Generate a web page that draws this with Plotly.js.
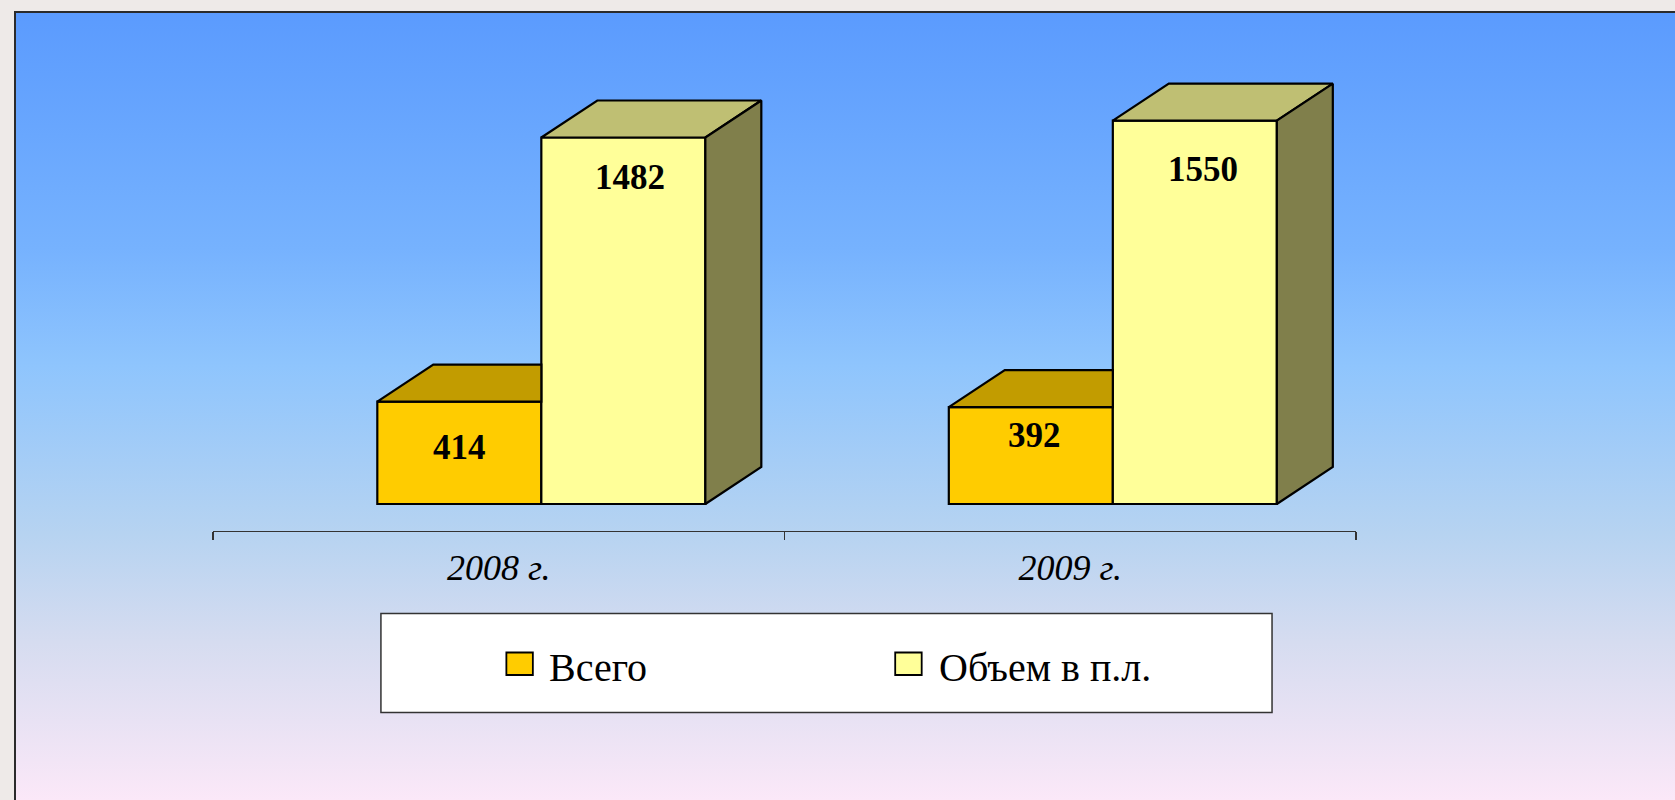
<!DOCTYPE html>
<html>
<head>
<meta charset="utf-8">
<script src="https://cdn.plot.ly/plotly-3.0.1.min.js"></script>
<style>
  html, body { margin: 0; padding: 0; width: 1675px; height: 800px; overflow: hidden; background: #eeeae8; }
  #frame {
    position: absolute; left: 14px; top: 11px; right: 0; bottom: 0;
    border-top: 2px solid #2b2b2b; border-left: 2px solid #2b2b2b;
    background: linear-gradient(to bottom, #5b9bfe 0%, #76b2fe 30%, #8fc5fd 45%, #b6d3f1 66%, #d6dcf0 80%, #fbe8f8 100%);
  }
  #chart { position: absolute; left: 0; top: 0; width: 1675px; height: 800px; }
</style>
</head>
<body>
<div id="frame"></div>
<div id="chart"></div>
<script>
// ---- data ----
const categories = ['2008 г.', '2009 г.'];
const seriesNames = ['Всего', 'Объем в п.л.'];
const vsego = [414, 392];
const obem = [1482, 1550];

// ---- styles / geometry ----
const frontColors = ['#ffcc00', '#ffff99'];
const topColors = ['#c29c00', '#bfbf73'];
const sideColors = ['#8f7300', '#807f4b'];
const W = 1675, H = 800;
const plotL = 212.5, plotR = 1356, plotT = 60, plotB = 531;
const zeroPx = 504;
const unitsPerPx = 4.0437;
const xRange = [-0.5, 1.5];
const pxPerX = (plotR - plotL) / (xRange[1] - xRange[0]);
const barWidth = 0.287;
const barOffsets = [-0.2125, 0.0745];
const depthX = 56 / pxPerX;
const depthY = 37 * unitsPerPx;
const yRange = [-(plotB - zeroPx) * unitsPerPx, (zeroPx - plotT) * unitsPerPx];
// label placement (px shifts from the bar top)
const labelDy = [[-45.7, -28.3], [-39.7, -49]];
const labelDx = [[0, 4], [7, 8]];

const series = [vsego, obem];
const xpos = categories.map((c, i) => i);

const traces = [];
series.forEach((vals, s) => {
  traces.push({
    type: 'bar', name: seriesNames[s], x: xpos, y: vals,
    width: barWidth, offset: barOffsets[s],
    marker: { color: frontColors[s], line: { color: '#000', width: 2.2 } },
    hoverinfo: 'skip', showlegend: false
  });
});

// 3D faces computed from the values
function poly(pts, color) {
  const xs = pts.map(p => p[0]); const ys = pts.map(p => p[1]);
  xs.push(pts[0][0]); ys.push(pts[0][1]);
  return { type: 'scatter', mode: 'lines', x: xs, y: ys, fill: 'toself', fillcolor: color,
           line: { color: '#000', width: 2.2 }, hoverinfo: 'skip', showlegend: false };
}
xpos.forEach((xc, i) => {
  series.forEach((vals, s) => {
    const v = vals[i];
    const x0 = xc + barOffsets[s];
    const x1 = x0 + barWidth;
    const next = series[s + 1];
    const hidden = next && next[i] >= v;
    const xBackEnd = hidden ? x1 : x1 + depthX;
    traces.push(poly([[x0, v], [x0 + depthX, v + depthY], [xBackEnd, v + depthY], [x1, v]], topColors[s]));
    if (!hidden) {
      traces.push(poly([[x1, 0], [x1, v], [x1 + depthX, v + depthY], [x1 + depthX, depthY]], sideColors[s]));
    }
  });
});

// data labels
const annotations = [];
series.forEach((vals, s) => {
  vals.forEach((v, i) => {
    annotations.push({
      x: xpos[i] + barOffsets[s] + barWidth / 2, y: v, xref: 'x', yref: 'y',
      text: String(v), showarrow: false, xanchor: 'center', yanchor: 'middle',
      xshift: labelDx[s][i], yshift: labelDy[s][i],
      font: { family: 'Liberation Serif, Times New Roman, serif', size: 35, color: '#000', weight: 'bold' }
    });
  });
});

// custom legend (box + swatches + names)
const px2x = px => (px - plotL) / (plotR - plotL);
const px2y = py => (plotB - py) / (plotB - plotT);
const shapes = [{
  type: 'rect', xref: 'paper', yref: 'paper',
  x0: px2x(380.5), x1: px2x(1272), y0: px2y(613.5), y1: px2y(712.5),
  fillcolor: '#ffffff', line: { color: '#333', width: 1.5 }, layer: 'below'
}];
const legendSwatchX = [506, 895];
const legendTextX = [547, 937];
seriesNames.forEach((name, s) => {
  shapes.push({
    type: 'rect', xref: 'paper', yref: 'paper',
    x0: px2x(legendSwatchX[s]), x1: px2x(legendSwatchX[s] + 26.5),
    y0: px2y(652.5), y1: px2y(675),
    fillcolor: frontColors[s], line: { color: '#000', width: 1.8 }
  });
  annotations.push({
    xref: 'paper', yref: 'paper', x: px2x(legendTextX[s]), y: px2y(667),
    text: name, showarrow: false, xanchor: 'left', yanchor: 'middle',
    font: { family: 'Liberation Serif, Times New Roman, serif', size: 40, color: '#000' }
  });
});

const layout = {
  width: W, height: H,
  margin: { l: plotL, r: W - plotR, t: plotT, b: H - plotB, pad: 0 },
  paper_bgcolor: 'rgba(0,0,0,0)', plot_bgcolor: 'rgba(0,0,0,0)',
  showlegend: false, barmode: 'overlay',
  xaxis: {
    range: xRange, tickmode: 'array', tickvals: xpos, ticktext: categories,
    ticks: '', showgrid: false, zeroline: false, automargin: false,
    showline: true, linecolor: '#333', linewidth: 1.2, fixedrange: true,
    tickfont: { family: 'Liberation Serif, Times New Roman, serif', size: 36, color: '#000', style: 'italic' },
    ticklabelstandoff: 5,
    minor: { tickmode: 'array', tickvals: [-0.5, 0.5, 1.5], ticks: 'outside', ticklen: 8, tickcolor: '#333', tickwidth: 1.2, showgrid: false }
  },
  yaxis: {
    range: yRange, showgrid: false, zeroline: false, showticklabels: false,
    showline: false, ticks: '', automargin: false, fixedrange: true
  },
  shapes: shapes,
  annotations: annotations
};

Plotly.newPlot('chart', traces, layout, { displayModeBar: false, staticPlot: true });
</script>
</body>
</html>
